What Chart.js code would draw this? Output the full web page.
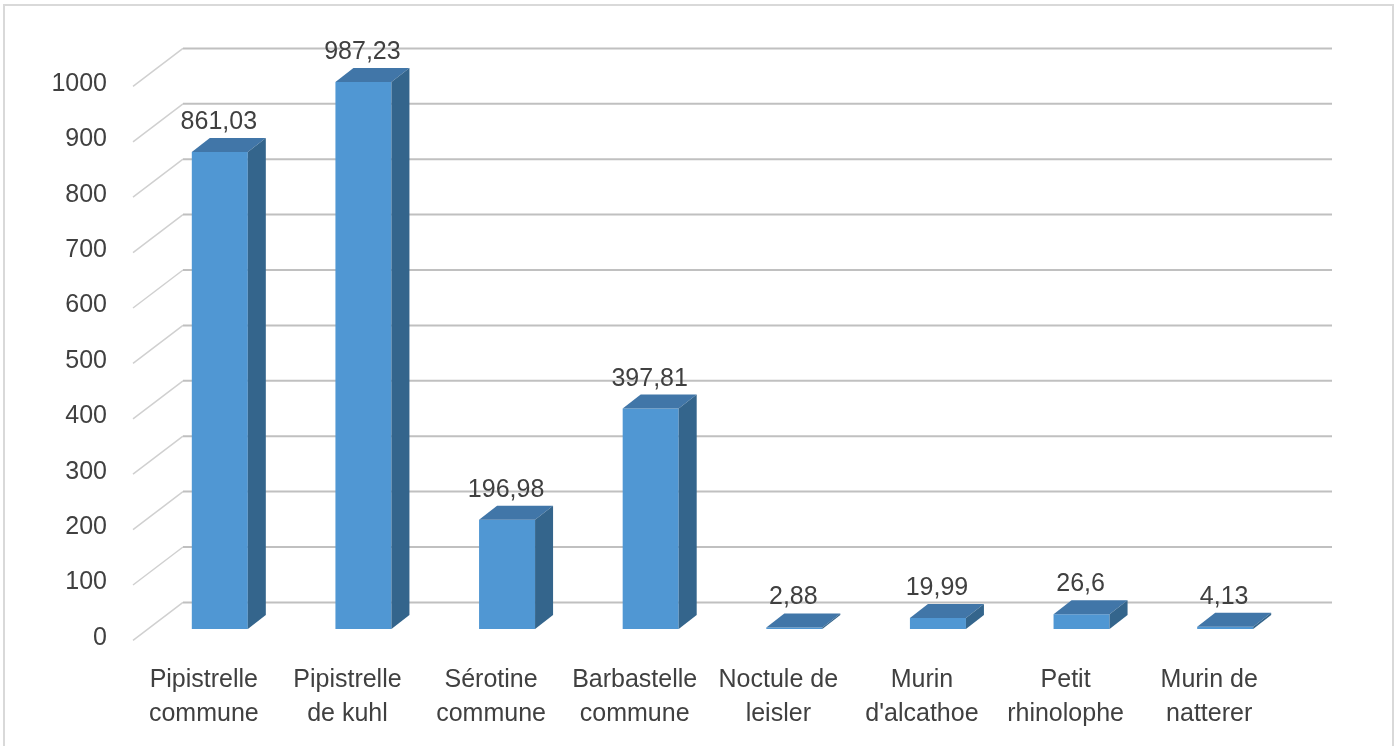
<!DOCTYPE html>
<html>
<head>
<meta charset="utf-8">
<script src="https://cdn.jsdelivr.net/npm/chart.js@4"></script>
<style>
html,body{margin:0;padding:0;background:#fff;}
#wrap{width:1398px;height:746px;}
</style>
</head>
<body>
<div id="wrap"><canvas id="c" width="1398" height="746"></canvas></div>
<script>
const categories = [
  ["Pipistrelle", "commune"],
  ["Pipistrelle", "de kuhl"],
  ["Sérotine", "commune"],
  ["Barbastelle", "commune"],
  ["Noctule de", "leisler"],
  ["Murin", "d'alcathoe"],
  ["Petit", "rhinolophe"],
  ["Murin de", "natterer"]
];
const values = [861.03, 987.23, 196.98, 397.81, 2.88, 19.99, 26.6, 4.13];
const yTicks = [0, 100, 200, 300, 400, 500, 600, 700, 800, 900, 1000];

const FONT = "'Liberation Sans', Arial, sans-serif";
const TEXT = "#404040";
const BACK_DX = 35, BACK_DY = -26.6;   // bar plane -> back wall
const FRONT_DX = -15, FRONT_DY = 11.4; // bar plane -> front edge
const DEPTH_DX = 18, DEPTH_DY = -14;   // bar depth

const gridPlugin = {
  id: 'grid3d',
  beforeDraw(chart) {
    const ctx = chart.ctx;
    ctx.save();
    ctx.strokeStyle = '#D9D9D9';
    ctx.lineWidth = 2;
    ctx.strokeRect(4, 5, 1389, 800);
    ctx.restore();
  },
  beforeDatasetsDraw(chart) {
    const ctx = chart.ctx, y = chart.scales.y, a = chart.chartArea;
    ctx.save();
    yTicks.forEach(v => {
      const p = y.getPixelForValue(v);
      ctx.strokeStyle = '#D0D0D0';
      ctx.lineWidth = 1.5;
      ctx.beginPath();
      ctx.moveTo(a.left + FRONT_DX, p + FRONT_DY);
      ctx.lineTo(a.left + BACK_DX, p + BACK_DY);
      ctx.stroke();
      ctx.strokeStyle = '#C0C0C0';
      ctx.lineWidth = 2;
      ctx.beginPath();
      ctx.moveTo(a.left + BACK_DX, p + BACK_DY);
      ctx.lineTo(a.right + BACK_DX, p + BACK_DY);
      ctx.stroke();
    });
    ctx.restore();
  },
  afterDatasetsDraw(chart) {
    const ctx = chart.ctx;
    const meta = chart.getDatasetMeta(0);
    ctx.save();
    meta.data.forEach((bar, i) => {
      const l = bar.x - bar.width / 2, r = bar.x + bar.width / 2;
      const t = bar.y, b = bar.base;
      // top face
      ctx.fillStyle = '#4176A8';
      ctx.beginPath();
      ctx.moveTo(l, t);
      ctx.lineTo(l + DEPTH_DX, t + DEPTH_DY);
      ctx.lineTo(r + DEPTH_DX, t + DEPTH_DY);
      ctx.lineTo(r, t);
      ctx.closePath();
      ctx.fill();
      // side face
      ctx.fillStyle = '#34658C';
      ctx.beginPath();
      ctx.moveTo(r, t);
      ctx.lineTo(r + DEPTH_DX, t + DEPTH_DY);
      ctx.lineTo(r + DEPTH_DX, b + DEPTH_DY);
      ctx.lineTo(r, b);
      ctx.closePath();
      ctx.fill();
      // data label
      ctx.fillStyle = TEXT;
      ctx.font = "25px " + FONT;
      ctx.textAlign = 'center';
      ctx.textBaseline = 'alphabetic';
      ctx.fillText(String(values[i]).replace('.', ','), bar.x - 1, t - 23);
    });
    ctx.restore();
  }
};

new Chart(document.getElementById('c'), {
  type: 'bar',
  data: {
    labels: categories,
    datasets: [{
      data: values,
      backgroundColor: '#5097D3',
      borderWidth: 0,
      categoryPercentage: 1,
      barPercentage: 0.39
    }]
  },
  options: {
    responsive: false,
    animation: false,
    events: [],
    layout: { padding: { left: 0, top: 75, right: 101, bottom: 0 } },
    plugins: { legend: { display: false }, tooltip: { enabled: false } },
    scales: {
      x: {
        grid: { display: false },
        border: { display: false },
        ticks: {
          color: TEXT,
          font: { family: FONT, size: 25, lineHeight: 1.36 },
          padding: 26,
          labelOffset: -16,
          maxRotation: 0,
          autoSkip: false
        },
        afterFit(s) { s.height = 746 - 629; }
      },
      y: {
        min: 0, max: 1000,
        grid: { display: false },
        border: { display: false },
        ticks: {
          stepSize: 100,
          color: TEXT,
          font: { family: FONT, size: 25 },
          padding: 33,
          labelOffset: 9,
          callback: v => String(v)
        },
        afterFit(s) { s.width = 148; }
      }
    }
  },
  plugins: [gridPlugin]
});
</script>
</body>
</html>
